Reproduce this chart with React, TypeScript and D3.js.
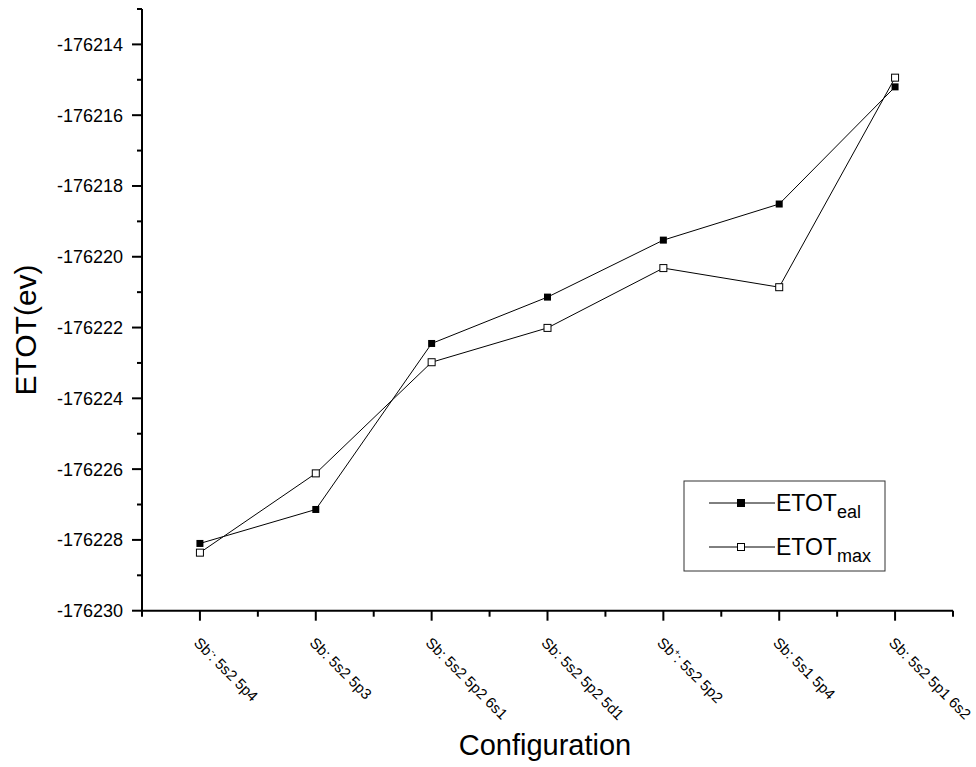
import React from "react";
import * as d3 from "d3";

// Electron configurations along the x axis (superscript charge kept separate)
const categoryBase = ["Sb", "Sb", "Sb", "Sb", "Sb", "Sb", "Sb"];
const categoryCharge = ["-", "", "", "", "+", "", ""];
const categoryConfig = [
  "5s2 5p4",
  "5s2 5p3",
  "5s2 5p2 6s1",
  "5s2 5p2 5d1",
  "5s2 5p2",
  "5s1 5p4",
  "5s2 5p1 6s2",
];

// Total energies (eV)
const etotEal = [-176228.1, -176227.14, -176222.45, -176221.14, -176219.53, -176218.51, -176215.2];
const etotMax = [-176228.36, -176226.12, -176222.98, -176222.01, -176220.32, -176220.86, -176214.94];

const yMajorTicks = [-176230, -176228, -176226, -176224, -176222, -176220, -176218, -176216, -176214];
const yMinorTicks = [-176229, -176227, -176225, -176223, -176221, -176219, -176217, -176215, -176213];

const W = 976;
const H = 767;
const FONT = "Arial, 'Liberation Sans', Helvetica, sans-serif";

export default function App() {
  const x = d3.scaleLinear().domain([0.5, 7.5]).range([142, 953]);
  const y = d3.scaleLinear().domain([-176230, -176213]).range([610.7, 9]);

  const idx = d3.range(categoryConfig.length);
  const line = d3
    .line<number>()
    .x((_, i) => x(i + 1))
    .y((d) => y(d));

  const xMinor = d3.range(0.5, 8, 1);
  const ms = 7;

  const legendX = 684;
  const legendY = 481;

  return (
    <svg
      width={W}
      height={H}
      style={{ position: "absolute", left: 0, top: 0, background: "#fff" }}
      fontFamily={FONT}
    >
      <rect x={0} y={0} width={W} height={H} fill="#fff" />

      {/* y axis */}
      <line x1={142} x2={142} y1={y(-176213)} y2={y(-176230) + 1} stroke="#000" strokeWidth={2} />
      {yMajorTicks.map((v) => (
        <g key={"ym" + v}>
          <line x1={132} x2={142} y1={y(v)} y2={y(v)} stroke="#000" strokeWidth={2} />
          <text x={123} y={y(v)} dy="0.36em" textAnchor="end" fontSize={18} fill="#000">
            {String(v)}
          </text>
        </g>
      ))}
      {yMinorTicks.map((v) => (
        <line key={"yn" + v} x1={137} x2={142} y1={y(v)} y2={y(v)} stroke="#000" strokeWidth={2} />
      ))}

      {/* x axis */}
      <line x1={141} x2={953} y1={y(-176230)} y2={y(-176230)} stroke="#000" strokeWidth={2} />
      {idx.map((i) => (
        <line
          key={"xm" + i}
          x1={x(i + 1)}
          x2={x(i + 1)}
          y1={y(-176230)}
          y2={y(-176230) + 10}
          stroke="#000"
          strokeWidth={2}
        />
      ))}
      {xMinor.map((v) => (
        <line
          key={"xn" + v}
          x1={x(v)}
          x2={x(v)}
          y1={y(-176230)}
          y2={y(-176230) + 6}
          stroke="#000"
          strokeWidth={2}
        />
      ))}
      {idx.map((i) => (
        <text
          key={"xl" + i}
          transform={`translate(${x(i + 1) - 7},${y(-176230) + 33}) rotate(45)`}
          fontSize={15}
          fill="#000"
        >
          {categoryBase[i]}
          {categoryCharge[i] ? (
            <tspan fontSize={9} dy={-6}>
              {categoryCharge[i]}
            </tspan>
          ) : null}
          <tspan dy={categoryCharge[i] ? 6 : 0}>{": " + categoryConfig[i]}</tspan>
        </text>
      ))}

      {/* axis titles */}
      <text x={545} y={755} textAnchor="middle" fontSize={29} fill="#000">
        Configuration
      </text>
      <text
        transform={`translate(36,330) rotate(-90)`}
        textAnchor="middle"
        fontSize={30}
        fill="#000"
      >
        ETOT(ev)
      </text>

      {/* series lines */}
      <path d={line(etotEal) ?? ""} fill="none" stroke="#000" strokeWidth={1} />
      <path d={line(etotMax) ?? ""} fill="none" stroke="#000" strokeWidth={1} />

      {/* markers */}
      {etotEal.map((v, i) => (
        <rect key={"e" + i} x={x(i + 1) - ms / 2} y={y(v) - ms / 2} width={ms} height={ms} fill="#000" />
      ))}
      {etotMax.map((v, i) => (
        <rect
          key={"m" + i}
          x={x(i + 1) - ms / 2}
          y={y(v) - ms / 2}
          width={ms}
          height={ms}
          fill="#fff"
          stroke="#000"
          strokeWidth={1}
        />
      ))}

      {/* legend */}
      <rect x={legendX} y={legendY} width={201} height={90} fill="#fff" stroke="#333" strokeWidth={1} />
      {[
        { sub: "eal", filled: true, yy: 503 },
        { sub: "max", filled: false, yy: 547 },
      ].map((it) => (
        <g key={it.sub}>
          <line x1={709} x2={775} y1={it.yy} y2={it.yy} stroke="#000" strokeWidth={1} />
          <rect
            x={741 - ms / 2}
            y={it.yy - ms / 2}
            width={ms}
            height={ms}
            fill={it.filled ? "#000" : "#fff"}
            stroke="#000"
            strokeWidth={1}
          />
          <text x={776} y={it.yy + 8} fontSize={23} fill="#000">
            ETOT
            <tspan fontSize={18} dy={7}>
              {it.sub}
            </tspan>
          </text>
        </g>
      ))}
    </svg>
  );
}
